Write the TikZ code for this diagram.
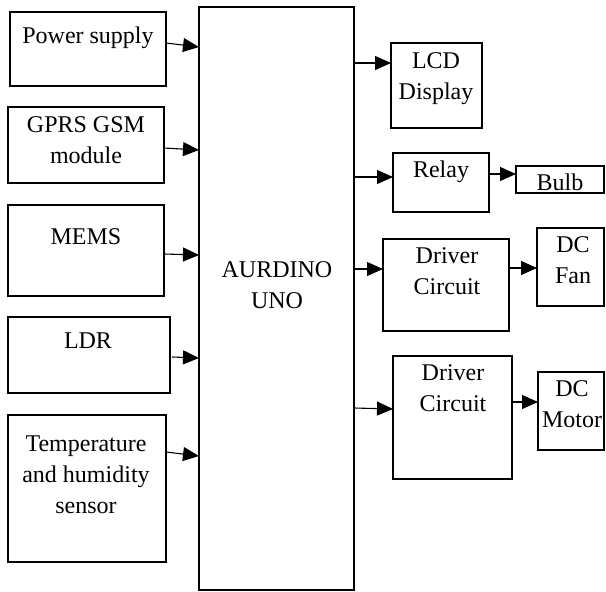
\documentclass[tikz,border=0pt]{standalone}
\usepackage{fontspec}
\setmainfont{Liberation Serif}
\usetikzlibrary{arrows.meta}
\begin{document}
\begin{tikzpicture}[x=1pt,y=-1pt,
  box/.style={draw,line width=1.1pt,inner sep=0pt,outer sep=0pt,anchor=center},
  txt/.style={font=\fontsize{24}{31}\selectfont,align=center,anchor=base,inner sep=0pt},
  arr/.style={line width=1.1pt,-{Triangle[length=16pt,width=14pt]}}]
\useasboundingbox (0,0) rectangle (606,592);
% left boxes
\node[box,minimum width=156pt,minimum height=74pt] (ps) at (88,49) {};
\node[box,minimum width=156pt,minimum height=76pt] (gprs) at (86,145) {};
\node[box,minimum width=156pt,minimum height=91pt] (mems) at (86,250.5) {};
\node[box,minimum width=162pt,minimum height=76pt] (ldr) at (89,355) {};
\node[box,minimum width=158pt,minimum height=147pt] (temp) at (87,488.5) {};
% main
\node[box,minimum width=155pt,minimum height=583pt] (main) at (276.5,298.5) {};
% right boxes
\node[box,minimum width=91pt,minimum height=85pt] (lcd) at (436.5,85.5) {};
\node[box,minimum width=96pt,minimum height=59pt] (relay) at (441,182.5) {};
\node[box,minimum width=88pt,minimum height=27pt] (bulb) at (560,179.5) {};
\node[box,minimum width=126pt,minimum height=92pt] (drvA) at (446,285) {};
\node[box,minimum width=67pt,minimum height=78pt] (fan) at (570.5,267) {};
\node[box,minimum width=119pt,minimum height=123pt] (drvB) at (452.5,417.5) {};
\node[box,minimum width=66pt,minimum height=78pt] (motor) at (571,411) {};
% texts (anchor base = baseline of last line)
\node[txt] (tps) at (88,43) {Power supply};
\node[txt] (tgprs) at (86,163) {GPRS GSM\\module};
\node[txt] (tmems) at (86,244) {MEMS};
\node[txt] (tldr) at (88,348) {LDR};
\node[txt] (ttemp) at (86,513) {Temperature\\and humidity\\sensor};
\node[txt] (tmain) at (277,308) {AURDINO\\UNO};
\node[txt] (tlcd) at (436,99) {LCD\\Display};
\node[txt] (trelay) at (441,177) {Relay};
\node[txt] (tbulb) at (560,190) {Bulb};
\node[txt] (tdrvA) at (447,294) {Driver\\Circuit};
\node[txt] (tfan) at (573,283) {DC\\Fan};
\node[txt] (tdrvB) at (453,411) {Driver\\Circuit};
\node[txt] (tmotor) at (572,427) {DC\\Motor};
% arrows
\draw[arr] (ps.east |- 0,43) -- (main.west |- 0,47);
\draw[arr] (gprs.east |- 0,148) -- (main.west |- 0,150);
\draw[arr] (mems.east |- 0,254) -- (main.west |- 0,255);
\draw[arr] ([xshift=2pt]ldr.east |- 0,357) -- (main.west |- 0,358);
\draw[arr] (temp.east |- 0,452) -- (main.west |- 0,456);
\draw[arr] (main.east |- 0,63) -- (lcd.west |- 0,63);
\draw[arr] (main.east |- 0,177) -- (relay.west |- 0,177);
\draw[arr] (relay.east |- 0,174) -- (bulb.west |- 0,174);
\draw[arr] (main.east |- 0,269) -- (drvA.west |- 0,269);
\draw[arr] (drvA.east |- 0,268) -- (fan.west |- 0,268);
\draw[arr] (main.east |- 0,408) -- (drvB.west |- 0,409);
\draw[arr] (drvB.east |- 0,402) -- (motor.west |- 0,402);
\end{tikzpicture}
\end{document}
